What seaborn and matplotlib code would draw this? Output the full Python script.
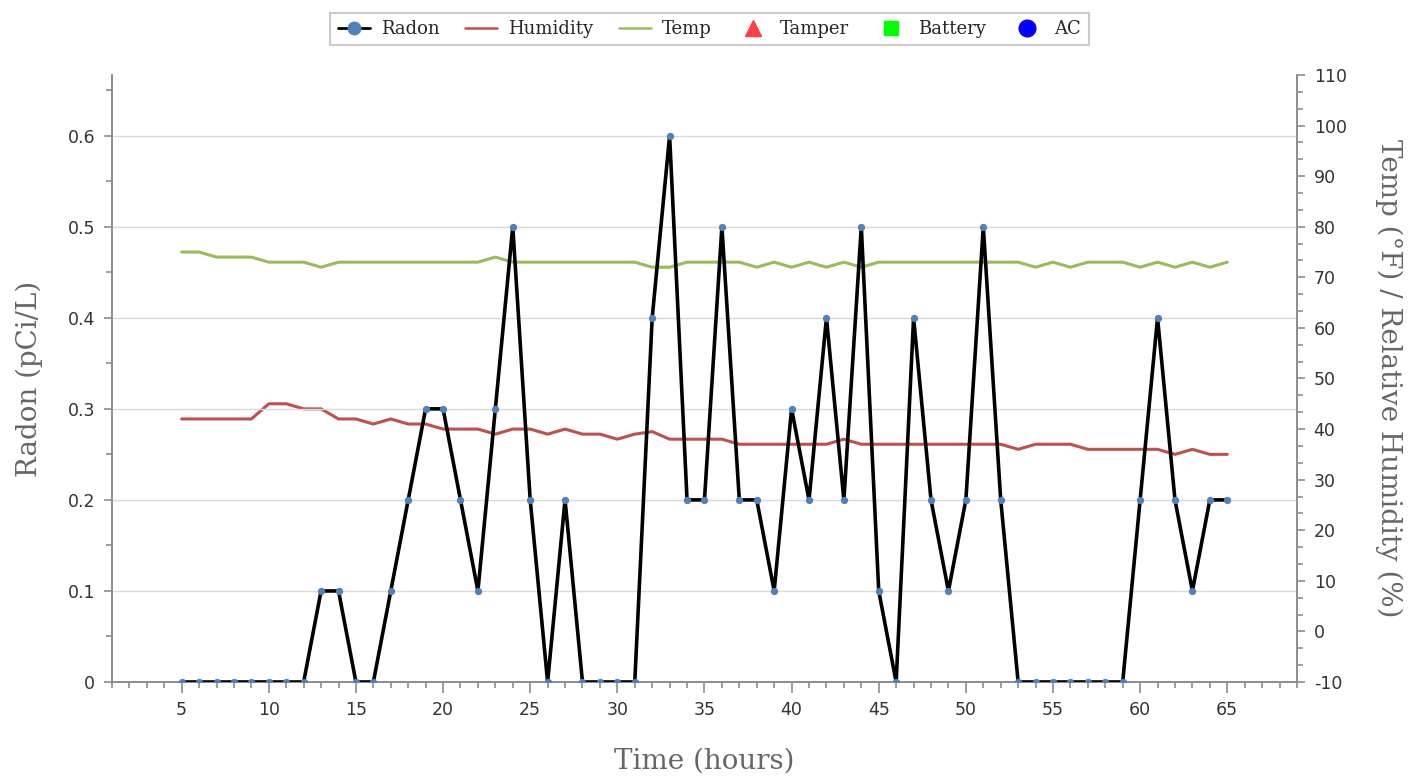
import numpy as np
import pandas as pd
import matplotlib
matplotlib.use("Agg")
import matplotlib.pyplot as plt
import seaborn as sns
from matplotlib.lines import Line2D
from matplotlib.ticker import MultipleLocator, AutoMinorLocator

hours = list(range(5, 66))
radon = [0, 0, 0, 0, 0, 0, 0, 0,            # 5-12
         0.1, 0.1, 0, 0, 0.1, 0.2, 0.3, 0.3, 0.2, 0.1,   # 13-22
         0.3, 0.5, 0.2, 0, 0.2, 0, 0, 0, 0,      # 23-31
         0.4, 0.6, 0.2, 0.2, 0.5, 0.2, 0.2, 0.1, 0.3, 0.2,  # 32-41
         0.4, 0.2, 0.5, 0.1, 0, 0.4, 0.2, 0.1, 0.2, 0.5,    # 42-51
         0.2, 0, 0, 0, 0, 0, 0, 0,              # 52-59
         0.2, 0.4, 0.2, 0.1, 0.2, 0.2]          # 60-65
humidity = [42, 42, 42, 42, 42, 45, 45, 44, 44, 42,      # 5-14
            42, 41, 42, 41, 41, 40, 40, 40, 39, 40,      # 15-24
            40, 39, 40, 39, 39, 38, 39, 39.5, 38, 38,    # 25-34
            38, 38, 37, 37, 37, 37, 37, 37, 38, 37,      # 35-44
            37, 37, 37, 37, 37, 37, 37, 37, 36, 37,      # 45-54
            37, 37, 36, 36, 36, 36, 36, 35, 36, 35, 35]  # 55-65
temp = [75, 75, 74, 74, 74, 73, 73, 73, 72, 73,          # 5-14
        73, 73, 73, 73, 73, 73, 73, 73, 74, 73,          # 15-24
        73, 73, 73, 73, 73, 73, 73, 72, 72, 73,          # 25-34
        73, 73, 73, 72, 73, 72, 73, 72, 73, 72,          # 35-44
        73, 73, 73, 73, 73, 73, 73, 73, 73, 72,          # 45-54
        73, 72, 73, 73, 73, 72, 73, 72, 73, 72, 73]      # 55-65
x_ticks = [5, 10, 15, 20, 25, 30, 35, 40, 45, 50, 55, 60, 65]
left_ticks = [0, 0.1, 0.2, 0.3, 0.4, 0.5, 0.6]
right_ticks = list(range(-10, 111, 10))
legend_labels = ["Radon", "Humidity", "Temp", "Tamper", "Battery", "AC"]

df = pd.DataFrame({"hours": hours, "radon": radon, "humidity": humidity, "temp": temp})

sns.set_theme(style="white")
plt.rcParams["font.family"] = ["DejaVu Sans"]

fig = plt.figure(figsize=(14.19, 7.78), dpi=100)
ax = fig.add_axes([0.0789, 0.1234, 0.8351, 0.7802])
ax2 = ax.twinx()
ax.set_zorder(ax2.get_zorder() + 1)
ax.patch.set_visible(False)

RADON_C = "#4f81bd"
HUM_C = "#c0504d"
TEMP_C = "#9bbb59"

sns.lineplot(data=df, x="hours", y="humidity", ax=ax2, color=HUM_C, lw=2.2)
sns.lineplot(data=df, x="hours", y="temp", ax=ax2, color=TEMP_C, lw=2.2)
sns.lineplot(data=df, x="hours", y="radon", ax=ax, color="black", lw=2.6,
             marker="o", markersize=4.5, markerfacecolor=RADON_C,
             markeredgecolor=RADON_C, zorder=5)

ax.set_xlim(1, 69)
ax.set_ylim(0, 0.6667)
ax2.set_ylim(-10, 110)

ax.set_xticks(x_ticks)
ax.set_xticklabels([str(t) for t in x_ticks])
ax.xaxis.set_minor_locator(MultipleLocator(1))
ax.set_yticks(left_ticks)
ax.set_yticklabels(["0" if t == 0 else f"{t:g}" for t in left_ticks])
ax.yaxis.set_minor_locator(AutoMinorLocator(2))
ax2.set_yticks(right_ticks)
ax2.set_yticklabels([str(t) for t in right_ticks])
ax2.yaxis.set_minor_locator(AutoMinorLocator(3))

ax.grid(axis="y", color="#d9d9d9", lw=1)
ax.grid(axis="x", visible=False)
ax2.grid(False)

spine_c = "#8c8c8c"
for a in (ax, ax2):
    a.spines["top"].set_visible(False)
    for s in ("left", "right", "bottom"):
        a.spines[s].set_color(spine_c)
        a.spines[s].set_linewidth(1.2)

tick_kw = dict(colors=spine_c, labelcolor="#333333", labelsize=12.5)
ax.tick_params(axis="x", which="major", direction="out", length=8, width=1.2, bottom=True, pad=6, **tick_kw)
ax.tick_params(axis="x", which="minor", direction="out", length=4, width=1.2, bottom=True, colors=spine_c)
ax.tick_params(axis="y", which="major", direction="out", length=6, width=1.2, left=True, pad=6, **tick_kw)
ax.tick_params(axis="y", which="minor", direction="out", length=4, width=1.2, left=True, colors=spine_c)
ax2.tick_params(axis="y", which="major", direction="out", length=6, width=1.2, right=True, pad=6, **tick_kw)
ax2.tick_params(axis="y", which="minor", direction="out", length=4, width=1.2, right=True, colors=spine_c)

label_font = dict(family="DejaVu Serif", size=20, color="#666666")
ax.set_xlabel("Time (hours)", labelpad=20, **label_font)
ax.set_ylabel("Radon (pCi/L)", labelpad=18, **label_font)
ax2.set_ylabel("Temp (°F) / Relative Humidity (%)", rotation=270, labelpad=40, **label_font)

handles = [
    Line2D([], [], color="black", lw=2, marker="o", markersize=9,
           markerfacecolor=RADON_C, markeredgecolor=RADON_C),
    Line2D([], [], color=HUM_C, lw=1.8),
    Line2D([], [], color=TEMP_C, lw=1.8),
    Line2D([], [], ls="none", marker="^", markersize=11, color="#ff4040"),
    Line2D([], [], ls="none", marker="s", markersize=10, color="#00ff00"),
    Line2D([], [], ls="none", marker="o", markersize=12, color="#0000ff"),
]
leg = fig.legend(handles, legend_labels, loc="upper center", bbox_to_anchor=(0.5, 0.995),
                 ncol=6, frameon=True, fancybox=False, edgecolor="#bfbfbf",
                 prop={"family": "DejaVu Serif", "size": 13}, handlelength=1.8,
                 handletextpad=0.6, columnspacing=1.4, borderpad=0.4)
leg.get_frame().set_linewidth(1.5)

fig.savefig("out.png", dpi=100, facecolor="white")
